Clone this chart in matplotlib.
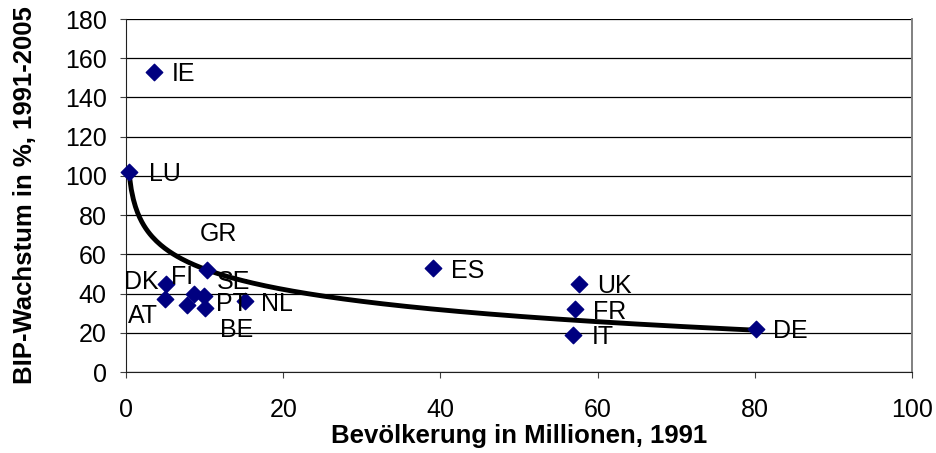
import numpy as np
import matplotlib
matplotlib.use("Agg")
import matplotlib.pyplot as plt

plt.rcParams['font.family'] = ['Liberation Sans', 'DejaVu Sans']

countries = ['LU', 'IE', 'DK', 'FI', 'AT', 'SE', 'PT', 'BE', 'GR', 'NL', 'ES', 'UK', 'FR', 'IT', 'DE']
population = [0.4, 3.5, 5.1, 5.0, 7.8, 8.6, 9.9, 10.0, 10.3, 15.2, 39.1, 57.6, 57.1, 56.9, 80.2]
growth = [102, 153, 45, 37, 34, 40, 39, 32.5, 52, 36, 53, 45, 32, 19, 22]

# label offsets in points (labels were moved by hand in the original)
offsets = {
    'LU': (14, 0), 'IE': (13, 0), 'DK': (-30, 3), 'FI': (4, 18),
    'AT': (-43, -6), 'SE': (17, 10), 'PT': (9, -4), 'BE': (11, -14),
    'GR': (-5, 28), 'NL': (11, 0), 'ES': (13, 0), 'UK': (13, 0),
    'FR': (13, 0), 'IT': (13, 0), 'DE': (12, 0),
}

fig = plt.figure(figsize=(9.37, 4.53), dpi=100)
ax = fig.add_axes([0.1345, 0.1788, 0.8388, 0.7792])

ax.set_xlim(0, 100)
ax.set_ylim(0, 180)
ax.set_xticks(range(0, 101, 20))
ax.set_yticks(range(0, 181, 20))
ax.yaxis.grid(True, color='black', linewidth=0.9)
ax.set_axisbelow(True)
ax.spines['top'].set_visible(False)
ax.spines['right'].set_color('#808080')
ax.spines['right'].set_linewidth(1.4)
ax.spines['left'].set_color('#202020')
ax.spines['bottom'].set_color('#202020')
ax.tick_params(labelsize=18, length=4, color='#404040')
ax.tick_params(axis='y', pad=10)
ax.tick_params(axis='x', pad=15)

# logarithmic trend line
x = np.array(population)
b, a = np.polyfit(np.log(x), np.array(growth), 1)
xs = np.linspace(x.min(), x.max(), 300)
ax.plot(xs, a + b * np.log(xs), color='black', linewidth=3.5, zorder=2)

ax.scatter(population, growth, marker='D', s=70, color='#000080', zorder=3, clip_on=False)
for c, px, gy in zip(countries, population, growth):
    ax.annotate(c, (px, gy), xytext=offsets[c], textcoords='offset points',
                ha='left', va='center_baseline', fontsize=18, color='black', zorder=4)

ax.set_xlabel('Bevölkerung in Millionen, 1991', fontsize=18.5, fontweight='bold', labelpad=1)
ax.set_ylabel('BIP-Wachstum in %, 1991-2005', fontsize=18.5, fontweight='bold', labelpad=20)

fig.savefig('out.png', dpi=100)
